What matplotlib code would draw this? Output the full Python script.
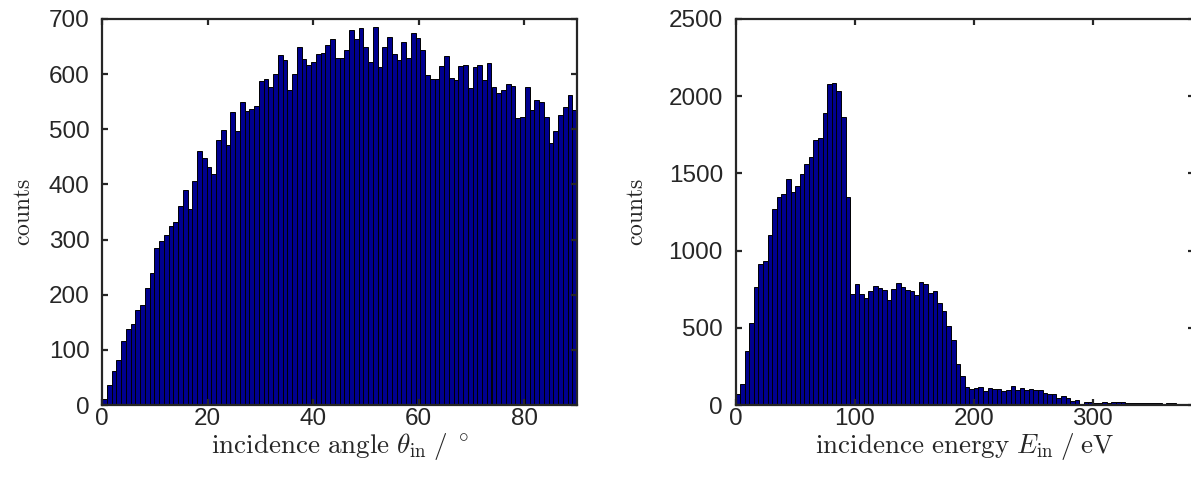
import numpy as np
import matplotlib
matplotlib.use("Agg")
import matplotlib.pyplot as plt

# histogram counts (100 bins each)
angle_counts = [11, 36, 62, 81, 116, 137, 147, 172, 181, 213,
                240, 285, 297, 309, 325, 331, 361, 389, 356, 406,
                461, 448, 431, 419, 481, 499, 472, 532, 497, 550,
                534, 537, 542, 587, 591, 577, 601, 635, 625, 572,
                601, 650, 627, 617, 622, 636, 639, 653, 663, 629,
                630, 643, 680, 663, 683, 650, 622, 686, 613, 650,
                667, 637, 626, 659, 630, 674, 665, 643, 599, 591,
                592, 614, 632, 593, 590, 614, 616, 575, 613, 617,
                589, 620, 577, 566, 571, 582, 578, 521, 523, 576,
                535, 554, 549, 522, 475, 496, 526, 541, 562, 535]

energy_counts = [71, 136, 352, 529, 762, 912, 931, 1102, 1268, 1350,
                 1367, 1462, 1378, 1421, 1495, 1560, 1603, 1715, 1732, 1888,
                 2076, 2084, 2035, 1866, 1344, 717, 784, 717, 693, 741,
                 773, 758, 742, 683, 752, 790, 767, 747, 737, 713,
                 796, 785, 726, 739, 659, 607, 512, 419, 264, 186,
                 119, 104, 110, 114, 93, 108, 101, 101, 91, 95,
                 125, 97, 108, 97, 101, 97, 97, 78, 73, 69,
                 48, 58, 43, 26, 32, 6, 17, 17, 11, 11,
                 19, 15, 17, 17, 19, 15, 15, 13, 11, 13,
                 11, 15, 11, 6, 11, 11, 9, 9, 9, 9]

angle_max = 90.0
energy_max = 385.0
angle_ticks = [0, 20, 40, 60, 80]
energy_ticks = [0, 100, 200, 300]

plt.rcParams['font.family'] = ['Liberation Sans', 'DejaVu Sans']
plt.rcParams['mathtext.fontset'] = 'cm'

axis_col = '#262626'
bar_col = '#00008F'

fig = plt.figure(figsize=(11.91, 4.78), dpi=100)
ax1 = fig.add_axes([102 / 1191, 73 / 478, 475 / 1191, 386 / 478])
ax2 = fig.add_axes([735.5 / 1191, 73 / 478, 458.4 / 1191, 386 / 478])


def draw_hist(ax, counts, xmax):
    edges = np.linspace(0, xmax, len(counts) + 1)
    ax.bar(edges[:-1], counts, width=np.diff(edges), align='edge',
           color=bar_col, edgecolor='black', linewidth=0.7)
    ax.set_xlim(0, xmax)
    for sp in ax.spines.values():
        sp.set_color(axis_col)
        sp.set_linewidth(1.6)
    ax.tick_params(direction='in', top=True, right=True, length=4.5,
                   width=1.6, color=axis_col, labelcolor=axis_col,
                   labelsize=17.5)
    ax.tick_params(axis='x', pad=2)
    ax.tick_params(axis='y', pad=9)


draw_hist(ax1, angle_counts, angle_max)
ax1.set_ylim(0, 700)
ax1.set_yticks(range(0, 701, 100))
ax1.set_xticks(angle_ticks)
ax1.set_xlabel(r'$\mathrm{incidence\ angle}\ \theta_\mathrm{in}\;/\;^\circ$',
               fontsize=19.5, color=axis_col)
ax1.set_ylabel(r'$\mathrm{counts}$', fontsize=17, color=axis_col)
ax1.yaxis.set_label_coords(-0.142, 0.5)
ax1.xaxis.set_label_coords(0.5, -0.068)

draw_hist(ax2, energy_counts, energy_max)
ax2.set_ylim(0, 2500)
ax2.set_yticks(range(0, 2501, 500))
ax2.set_xticks(energy_ticks)
ax2.set_xlabel(r'$\mathrm{incidence\ energy}\ E_\mathrm{in}\;/\;\mathrm{eV}$',
               fontsize=19.5, color=axis_col)
ax2.set_ylabel(r'$\mathrm{counts}$', fontsize=17, color=axis_col)
ax2.yaxis.set_label_coords(-0.191, 0.5)
ax2.xaxis.set_label_coords(0.5, -0.068)

fig.savefig('out.png', dpi=100)
